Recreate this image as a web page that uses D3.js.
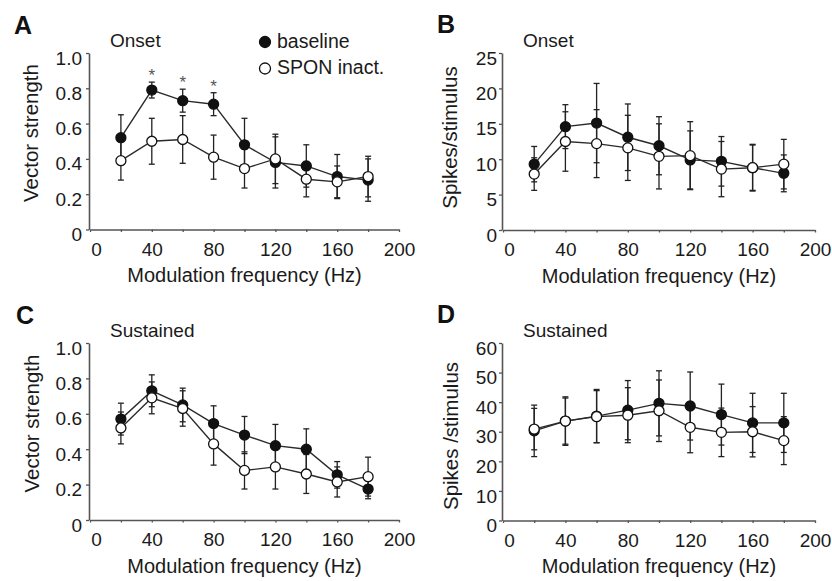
<!DOCTYPE html>
<html>
<head>
<meta charset="utf-8">
<script src="https://cdn.jsdelivr.net/npm/d3@7"></script>
<style>
  body { margin: 0; background: #fff; }
  svg { display: block; font-family: "Liberation Sans", Arial, sans-serif; }
</style>
</head>
<body>
<svg id="fig" width="832" height="581"></svg>
<script>
// modulation frequencies (Hz)
const freqs = [20, 40, 60, 80, 100, 120, 140, 160, 180]

// A: onset vector strength
const onsetVsBase = [0.52, 0.79, 0.73, 0.71, 0.48, 0.38, 0.36, 0.30, 0.28]
const onsetVsBaseErr = [0.13, 0.045, 0.065, 0.065, 0.15, 0.145, 0.12, 0.125, 0.12]
const onsetVsInact = [0.39, 0.50, 0.51, 0.41, 0.345, 0.40, 0.285, 0.27, 0.30]
const onsetVsInactErr = [0.11, 0.13, 0.135, 0.125, 0.11, 0.14, 0.10, 0.09, 0.115]
const onsetVsSig = [40, 60, 80]

// B: onset spikes/stimulus
const onsetSpkBase = [9.3, 14.6, 15.1, 13.1, 11.9, 9.9, 9.7, 8.8, 8.0]
const onsetSpkBaseErr = [2.5, 3.1, 5.6, 4.7, 4.1, 4.1, 3.5, 3.2, 2.6]
const onsetSpkInact = [7.9, 12.5, 12.2, 11.6, 10.4, 10.5, 8.6, 8.8, 9.3]
const onsetSpkInactErr = [2.3, 4.2, 4.8, 4.6, 4.6, 4.8, 3.9, 3.3, 3.5]

// C: sustained vector strength
const sustVsBase = [0.57, 0.73, 0.65, 0.545, 0.48, 0.42, 0.40, 0.255, 0.175]
const sustVsBaseErr = [0.09, 0.09, 0.095, 0.10, 0.105, 0.12, 0.115, 0.075, 0.055]
const sustVsInact = [0.52, 0.69, 0.63, 0.43, 0.28, 0.30, 0.26, 0.215, 0.245]
const sustVsInactErr = [0.09, 0.09, 0.10, 0.12, 0.105, 0.125, 0.11, 0.085, 0.11]

// D: sustained spikes/stimulus
const sustSpkBase = [30.3, 33.6, 35.3, 37.3, 39.6, 38.7, 35.8, 33.0, 33.0]
const sustSpkBaseErr = [8.7, 8.2, 9.0, 10.0, 11.0, 11.5, 10.3, 10.0, 10.0]
const sustSpkInact = [30.9, 33.6, 35.1, 35.6, 37.1, 31.5, 29.8, 30.0, 27.0]
const sustSpkInactErr = [7.0, 7.8, 8.8, 9.3, 10.4, 8.6, 8.2, 8.5, 8.1]

// tick labels
const xTicks = [0, 20, 40, 60, 80, 100, 120, 140, 160, 180, 200]
const vsTicks = [0, 0.2, 0.4, 0.6, 0.8, 1.0]
const onsetSpkTicks = [0, 5, 10, 15, 20, 25]
const sustSpkTicks = [0, 10, 20, 30, 40, 50, 60]

const legendLabels = ["baseline", "SPON inact."]

const svg = d3.select("#fig")
const INK = "#1a1a1a"
const AXIS = "#555"

function drawPanel(p) {
    let x = d3.scaleLinear().domain([0, 200]).range([p.left, p.right])
    let y = d3.scaleLinear().domain([0, p.ymax]).range([p.bottom, p.top])
    let g = svg.append("g")

    // x axis: ticks every 20, labels every 40
    let xa = g.append("g")
        .attr("transform", "translate(0," + p.bottom + ")")
        .call(d3.axisBottom(x).tickValues(xTicks).tickSize(2.5).tickSizeOuter(0)
            .tickPadding(10.5).tickFormat(d => d % 40 === 0 ? d : ""))
    xa.select(".domain").attr("stroke", AXIS).attr("stroke-width", 1.6)
    xa.selectAll(".tick line").attr("stroke", AXIS).attr("stroke-width", 1.3)
    xa.selectAll(".tick text").style("font-size", "19px").attr("fill", INK)
        .filter(d => d === 0).attr("x", 6)

    // y axis
    let ya = g.append("g")
        .attr("transform", "translate(" + (p.left - 1) + ",0)")
        .call(d3.axisLeft(y).tickValues(p.ticks).tickSize(3).tickSizeOuter(0)
            .tickPadding(p.pad).tickFormat(p.fmt))
    ya.select(".domain").attr("stroke", AXIS).attr("stroke-width", 1.6)
    ya.selectAll(".tick line").attr("stroke", AXIS).attr("stroke-width", 1.3)
    ya.selectAll(".tick text").style("font-size", "19px").attr("fill", INK).attr("y", 5)

    // axis titles
    g.append("text")
        .attr("x", (p.left + p.right) / 2).attr("y", p.bottom + 52.5)
        .attr("text-anchor", "middle").style("font-size", "20px").attr("fill", INK)
        .text("Modulation frequency (Hz)")
    g.append("text")
        .attr("transform", "translate(" + (p.left + p.ytitleDx) + "," + p.ytitleY + ") rotate(-90)")
        .attr("text-anchor", "middle").style("font-size", "20.5px").attr("fill", INK)
        .text(p.ytitle)

    // panel letter and subtitle
    g.append("text").attr("x", p.letterX).attr("y", p.letterY)
        .style("font-size", "25px").style("font-weight", "bold").attr("fill", "#111")
        .text(p.letter)
    g.append("text").attr("x", p.left + 20).attr("y", p.top - 6)
        .style("font-size", "19px").attr("fill", INK)
        .text(p.subtitle)

    let series = [
        {vals: p.base, errs: p.baseErr, fill: "#111"},
        {vals: p.inact, errs: p.inactErr, fill: "#fff"}
    ]
    let line = d3.line().x(d => x(d[0])).y(d => y(d[1]))

    series.forEach(s => {
        g.append("path")
            .datum(freqs.map((f, i) => [f, s.vals[i]]))
            .attr("d", line).attr("fill", "none")
            .attr("stroke", "#2a2a2a").attr("stroke-width", 1.4)
    })

    // error bars
    series.forEach(s => {
        let eb = g.append("g").attr("stroke", "#222").attr("stroke-width", 1.3)
        freqs.forEach((f, i) => {
            let lo = y(s.vals[i] - s.errs[i]), hi = y(s.vals[i] + s.errs[i])
            eb.append("line").attr("x1", x(f)).attr("x2", x(f)).attr("y1", lo).attr("y2", hi)
            eb.append("line").attr("x1", x(f) - 3).attr("x2", x(f) + 3).attr("y1", lo).attr("y2", lo)
            eb.append("line").attr("x1", x(f) - 3).attr("x2", x(f) + 3).attr("y1", hi).attr("y2", hi)
        })
    })

    // markers
    series.forEach(s => {
        g.append("g").selectAll("circle")
            .data(freqs.map((f, i) => [f, s.vals[i]]))
            .join("circle")
            .attr("cx", d => x(d[0])).attr("cy", d => y(d[1])).attr("r", 5)
            .attr("fill", s.fill).attr("stroke", "#111").attr("stroke-width", 1.3)
    })

    // significance stars
    if (p.sig) {
        p.sig.forEach(f => {
            let i = freqs.indexOf(f)
            g.append("text")
                .attr("x", x(f)).attr("y", y(p.base[i] + p.baseErr[i]) - 1)
                .attr("text-anchor", "middle").style("font-size", "17px").attr("fill", "#555")
                .text("*")
        })
    }

    // legend
    if (p.legend) {
        legendLabels.forEach((t, i) => {
            let ly = 42 + i * 26.5
            g.append("circle").attr("cx", 265).attr("cy", ly).attr("r", 5.5)
                .attr("fill", i === 0 ? "#111" : "#fff").attr("stroke", "#111").attr("stroke-width", 1.3)
            g.append("text").attr("x", 277).attr("y", ly + 5.5)
                .style("font-size", "19.5px").attr("fill", INK).text(t)
        })
    }
}

const fmtVs = d => d === 0 ? "0" : d3.format(".1f")(d)
const fmtInt = d => d

drawPanel({letter: "A", letterX: 14, letterY: 34, subtitle: "Onset",
    left: 90, right: 399, top: 53, bottom: 229.5, ymax: 1.0, ticks: vsTicks, fmt: fmtVs, pad: 4,
    ytitle: "Vector strength", ytitleDx: -52, ytitleY: 133,
    base: onsetVsBase, baseErr: onsetVsBaseErr, inact: onsetVsInact, inactErr: onsetVsInactErr,
    sig: onsetVsSig, legend: true})

drawPanel({letter: "B", letterX: 437, letterY: 33, subtitle: "Onset",
    left: 503, right: 815, top: 53, bottom: 230, ymax: 25, ticks: onsetSpkTicks, fmt: fmtInt, pad: 2,
    ytitle: "Spikes/stimulus", ytitleDx: -46, ytitleY: 137.5,
    base: onsetSpkBase, baseErr: onsetSpkBaseErr, inact: onsetSpkInact, inactErr: onsetSpkInactErr})

drawPanel({letter: "C", letterX: 16, letterY: 324, subtitle: "Sustained",
    left: 90, right: 399, top: 343, bottom: 520, ymax: 1.0, ticks: vsTicks, fmt: fmtVs, pad: 4,
    ytitle: "Vector strength", ytitleDx: -51, ytitleY: 423.5,
    base: sustVsBase, baseErr: sustVsBaseErr, inact: sustVsInact, inactErr: sustVsInactErr})

drawPanel({letter: "D", letterX: 437, letterY: 323, subtitle: "Sustained",
    left: 503, right: 815, top: 343, bottom: 520.5, ymax: 60, ticks: sustSpkTicks, fmt: fmtInt, pad: 2,
    ytitle: "Spikes /stimulus", ytitleDx: -45, ytitleY: 436,
    base: sustSpkBase, baseErr: sustSpkBaseErr, inact: sustSpkInact, inactErr: sustSpkInactErr})
</script>
</body>
</html>
